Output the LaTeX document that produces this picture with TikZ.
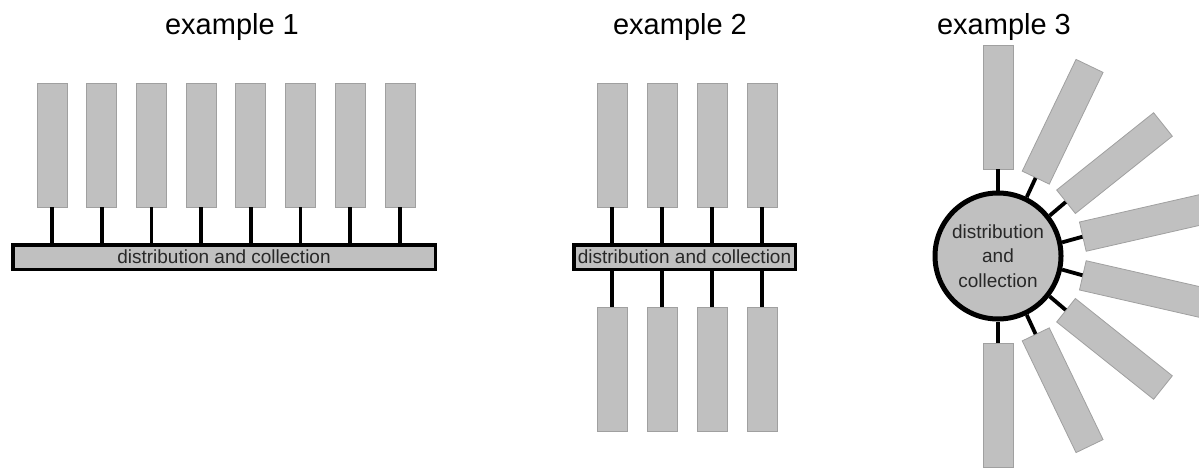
\documentclass[tikz,border=0pt]{standalone}
\usepackage{fontspec}
\setmainfont{Liberation Sans}
\usetikzlibrary{positioning}
\definecolor{boxgray}{HTML}{C0C0C0}
\definecolor{edgegray}{HTML}{A0A0A0}
\definecolor{textgray}{HTML}{282828}

\begin{document}
\begin{tikzpicture}[x=1pt, y=1pt,
    slot/.style={draw=edgegray, line width=0.8pt, fill=boxgray, inner sep=0pt, minimum width=30pt, minimum height=124pt},
    ray/.style={slot, minimum width=124pt, minimum height=30pt},
    bus/.style={draw=black, line width=3.5pt, fill=boxgray, inner sep=0pt, minimum height=24.5pt, text=textgray, font=\fontsize{19}{23}\selectfont},
    hub/.style={circle, draw=black, line width=5pt, fill=boxgray, inner sep=0pt, minimum size=126pt, align=center, text=textgray, font=\fontsize{19}{24.5}\selectfont},
    link/.style={line width=3.8pt},
    title/.style={anchor=base, font=\fontsize{29}{35}\selectfont}]
  \useasboundingbox (0,0) rectangle (1199,467);
  \clip (0,0) rectangle (1199,467);

  % example 1
  \node[title] (t1) at (232,432) {example 1};
  \node[bus, minimum width=422.5pt] (bar1) at (224,210) {distribution and collection};
  \foreach \i in {0,...,7} {
    \node[slot] (a\i) at ({52+49.7*\i},322) {};
    \draw[link] (a\i.south) -- (a\i.south |- bar1.north);
  }

  % example 2
  \node[title] (t2) at (680,432) {example 2};
  \node[bus, minimum width=221.5pt] (bar2) at (684.5,210) {distribution and collection};
  \foreach \i in {0,...,3} {
    \node[slot] (u\i) at ({612+50*\i},322) {};
    \node[slot] (d\i) at ({612+50*\i},98) {};
    \draw[link] (u\i.south) -- (u\i.south |- bar2.north);
    \draw[link] (d\i.north) -- (d\i.north |- bar2.south);
  }

  % example 3
  \node[title] (t3) at (1004,432) {example 3};
  \node[hub] (hub) at (998,211) {distribution\\and\\collection};
  \foreach \i in {0,...,7} {
    \pgfmathsetmacro{\a}{90-\i*180/7}
    \node[ray, rotate=\a] (c\i) at ([shift={(\a:149)}]hub.center) {};
    \draw[link] (hub.\a) -- (c\i.west);
  }
\end{tikzpicture}
\end{document}
